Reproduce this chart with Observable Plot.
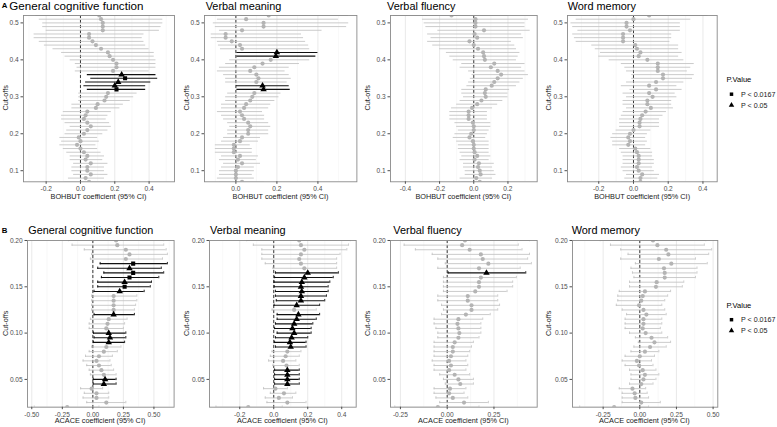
<!DOCTYPE html>
<html><head><meta charset="utf-8">
<script src="https://cdn.jsdelivr.net/npm/d3@7"></script>
<script src="https://cdn.jsdelivr.net/npm/@observablehq/plot@0.6"></script>
<style>
body{margin:0;background:#fff;}
#root{position:relative;width:777px;height:427px;overflow:hidden;font-family:"Liberation Sans",Arial,sans-serif;background:#fff;}
#root svg{position:absolute;}
</style></head><body><div id="root"></div>
<script>
// ---------- data ----------
const cutA = [0.52,0.51,0.50,0.49,0.48,0.47,0.46,0.45,0.44,0.43,0.42,0.41,0.40,0.39,0.38,0.37,0.36,0.35,0.34,0.33,0.32,0.31,0.30,0.29,0.28,0.27,0.26,0.25,0.24,0.23,0.22,0.21,0.20,0.19,0.18,0.17,0.16,0.15,0.14,0.13,0.12,0.11,0.10,0.09,0.08,0.07];
const cutB = [0.200,0.195,0.190,0.185,0.180,0.175,0.170,0.165,0.160,0.155,0.150,0.145,0.140,0.135,0.130,0.125,0.120,0.115,0.110,0.105,0.100,0.095,0.090,0.085,0.080,0.075,0.070,0.065,0.060,0.055,0.050,0.045,0.040,0.035,0.030,0.025,0.020];
const yTicksA = [0.1,0.2,0.3,0.4,0.5];
const yTicksB = [0.05,0.10,0.15,0.20];
const panelTitles = ["General cognitive function","Verbal meaning","Verbal fluency","Word memory"];
const xTitleA = "BOHBUT coefficient (95% CI)";
const xTitleB = "ACACE coefficient (95% CI)";
const yTitle = "Cut-offs";
const legendTitle = "P.Value";
const legendLabels = ["P < 0.0167","P < 0.05"];
// rows: [estimate, lower, upper, significance (0 = n.s., 1 = P<0.05, 2 = P<0.0167)]
const gcfA = [
[0.11,-0.26,0.49,0],[0.12,-0.24,0.48,0],[0.13,-0.22,0.48,0],[0.13,-0.22,0.47,0],[0.13,-0.20,0.46,0],
[0.05,-0.27,0.37,0],[0.05,-0.27,0.36,0],[0.07,-0.24,0.37,0],[0.09,-0.21,0.38,0],[0.12,-0.16,0.40,0],
[0.16,-0.11,0.43,0],[0.17,-0.09,0.43,0],[0.19,-0.06,0.44,0],[0.21,-0.03,0.44,0],[0.21,-0.02,0.44,0],
[0.19,-0.03,0.40,0],[0.24,0.04,0.44,1],[0.26,0.06,0.45,2],[0.22,0.03,0.41,1],[0.20,0.02,0.38,1],
[0.21,0.04,0.38,2],[0.16,-0.01,0.33,0],[0.15,-0.01,0.31,0],[0.14,-0.01,0.29,0],[0.10,-0.05,0.25,0],
[0.09,-0.05,0.23,0],[0.04,-0.10,0.18,0],[0.03,-0.11,0.16,0],[0.02,-0.11,0.15,0],[0.04,-0.09,0.17,0],
[0.06,-0.06,0.18,0],[0.04,-0.08,0.16,0],[0.02,-0.09,0.13,0],[-0.01,-0.12,0.10,0],[0.00,-0.11,0.11,0],
[-0.02,-0.12,0.09,0],[0.00,-0.10,0.10,0],[0.02,-0.08,0.12,0],[0.04,-0.06,0.14,0],[0.03,-0.06,0.13,0],
[0.06,-0.04,0.16,0],[0.04,-0.05,0.14,0],[0.04,-0.05,0.14,0],[0.06,-0.04,0.16,0],[0.03,-0.07,0.14,0],
[0.05,-0.09,0.18,0]];
const vmA = [
[0.16,-0.12,0.55,0],[0.05,-0.09,0.50,0],[0.135,-0.11,0.55,0],[0.135,-0.10,0.54,0],[0.03,-0.08,0.42,0],
[-0.05,-0.12,0.32,0],[-0.05,-0.12,0.33,0],[-0.02,-0.09,0.34,0],[0.02,-0.085,0.355,0],[0.03,-0.075,0.36,0],
[0.20,0.005,0.40,1],[0.195,0.005,0.39,1],[0.17,-0.03,0.36,0],[0.13,-0.05,0.31,0],[0.09,-0.08,0.26,0],
[0.07,-0.09,0.24,0],[0.10,-0.06,0.26,0],[0.11,-0.05,0.27,0],[0.10,-0.05,0.25,0],[0.13,0.003,0.26,1],
[0.135,0.005,0.265,1],[0.09,-0.04,0.22,0],[0.08,-0.05,0.21,0],[0.07,-0.05,0.19,0],[0.05,-0.07,0.17,0],
[0.04,-0.07,0.16,0],[0.02,-0.09,0.13,0],[0.03,-0.07,0.14,0],[0.04,-0.06,0.14,0],[0.06,-0.04,0.16,0],
[0.07,-0.03,0.17,0],[0.06,-0.04,0.16,0],[0.06,-0.04,0.16,0],[0.03,-0.06,0.12,0],[0.02,-0.07,0.11,0],
[-0.01,-0.10,0.07,0],[-0.01,-0.10,0.08,0],[-0.01,-0.10,0.08,0],[0.02,-0.07,0.11,0],[0.01,-0.08,0.10,0],
[0.03,-0.06,0.12,0],[0.01,-0.07,0.09,0],[0.00,-0.08,0.09,0],[0.00,-0.08,0.08,0],[0.00,-0.09,0.09,0],
[0.03,-0.08,0.14,0]];
const vfA = [
[-0.13,-0.47,0.20,0],[0.01,-0.30,0.32,0],[0.01,-0.29,0.30,0],[0.01,-0.28,0.30,0],[0.06,-0.21,0.33,0],
[0.005,-0.27,0.28,0],[0.02,-0.25,0.29,0],[-0.025,-0.27,0.22,0],[0.00,-0.24,0.24,0],[0.025,-0.20,0.25,0],
[0.055,-0.16,0.27,0],[0.06,-0.14,0.26,0],[0.065,-0.12,0.25,0],[0.12,-0.07,0.30,0],[0.10,-0.08,0.28,0],
[0.14,-0.03,0.30,0],[0.16,-0.01,0.32,0],[0.14,-0.02,0.29,0],[0.12,-0.03,0.27,0],[0.105,-0.04,0.25,0],
[0.07,-0.07,0.21,0],[0.065,-0.07,0.20,0],[0.07,-0.06,0.20,0],[0.045,-0.08,0.17,0],[0.02,-0.10,0.14,0],
[-0.01,-0.13,0.11,0],[-0.03,-0.14,0.08,0],[-0.03,-0.14,0.08,0],[-0.03,-0.14,0.08,0],[-0.005,-0.11,0.10,0],
[0.00,-0.10,0.10,0],[0.00,-0.09,0.09,0],[-0.015,-0.11,0.08,0],[-0.025,-0.12,0.07,0],[-0.005,-0.10,0.09,0],
[0.00,-0.09,0.09,0],[0.00,-0.09,0.09,0],[0.005,-0.08,0.09,0],[0.02,-0.07,0.10,0],[0.005,-0.08,0.09,0],
[0.03,-0.06,0.12,0],[0.025,-0.06,0.11,0],[0.035,-0.05,0.12,0],[0.04,-0.05,0.13,0],[0.015,-0.08,0.11,0],
[0.035,-0.07,0.14,0]];
const wmA = [
[0.09,-0.25,0.43,0],[0.00,-0.33,0.33,0],[-0.04,-0.36,0.27,0],[-0.04,-0.35,0.27,0],[-0.02,-0.32,0.27,0],
[-0.06,-0.35,0.22,0],[-0.06,-0.34,0.22,0],[-0.06,-0.33,0.21,0],[0.01,-0.24,0.26,0],[0.02,-0.22,0.26,0],
[0.04,-0.19,0.28,0],[0.03,-0.20,0.26,0],[0.08,-0.14,0.29,0],[0.14,-0.07,0.35,0],[0.14,-0.05,0.33,0],
[0.14,-0.04,0.31,0],[0.17,-0.01,0.35,0],[0.17,-0.01,0.34,0],[0.13,-0.04,0.29,0],[0.09,-0.07,0.25,0],
[0.13,-0.02,0.28,0],[0.09,-0.06,0.24,0],[0.11,-0.04,0.25,0],[0.08,-0.06,0.22,0],[0.08,-0.06,0.22,0],
[0.10,-0.04,0.23,0],[0.07,-0.06,0.19,0],[0.05,-0.07,0.17,0],[0.04,-0.08,0.15,0],[0.035,-0.08,0.15,0],
[0.035,-0.08,0.15,0],[0.00,-0.10,0.10,0],[-0.02,-0.12,0.08,0],[-0.03,-0.13,0.07,0],[-0.02,-0.12,0.08,0],
[-0.03,-0.12,0.07,0],[0.01,-0.08,0.10,0],[0.02,-0.07,0.11,0],[0.03,-0.06,0.11,0],[0.03,-0.06,0.12,0],
[0.03,-0.06,0.12,0],[0.02,-0.07,0.11,0],[0.03,-0.06,0.12,0],[0.05,-0.04,0.15,0],[0.04,-0.05,0.14,0],
[0.04,-0.07,0.16,0]];
const gcfB = [
[0.19,-0.20,0.58,0],[0.20,-0.17,0.58,0],[0.27,-0.07,0.60,0],[0.30,-0.01,0.61,0],[0.27,-0.02,0.57,0],
[0.33,0.06,0.61,2],[0.30,0.04,0.56,1],[0.33,0.09,0.58,2],[0.30,0.07,0.54,2],[0.26,0.04,0.48,1],
[0.26,0.04,0.47,2],[0.22,0.01,0.42,1],[0.17,-0.01,0.36,0],[0.17,-0.01,0.36,0],[0.17,-0.01,0.35,0],
[0.17,-0.01,0.34,0],[0.17,0.01,0.34,1],[0.13,-0.02,0.28,0],[0.12,-0.03,0.26,0],[0.11,-0.03,0.25,0],
[0.13,0.005,0.27,1],[0.14,0.01,0.27,1],[0.13,0.005,0.26,1],[0.11,-0.01,0.23,0],[0.09,-0.03,0.20,0],
[0.05,-0.06,0.16,0],[0.03,-0.08,0.14,0],[0.05,-0.05,0.15,0],[0.07,-0.03,0.17,0],[0.09,-0.02,0.19,0],
[0.10,0.003,0.19,1],[0.09,0.003,0.19,1],[-0.01,-0.10,0.08,0],[0.03,-0.07,0.13,0],[0.03,-0.08,0.13,0],
[0.11,-0.05,0.27,0],[-0.21,-0.48,0.05,0]];
const vmB = [
[0.15,-0.16,0.45,0],[0.16,-0.12,0.44,0],[0.18,-0.07,0.43,0],[0.16,-0.07,0.39,0],[0.15,-0.07,0.37,0],
[0.16,-0.05,0.37,0],[0.18,-0.005,0.37,0],[0.20,0.01,0.38,1],[0.18,0.005,0.35,1],[0.165,0.002,0.33,1],
[0.16,0.003,0.32,1],[0.165,0.01,0.32,1],[0.16,0.01,0.31,1],[0.16,0.015,0.30,1],[0.135,0.002,0.27,1],
[0.12,-0.01,0.25,0],[0.145,0.02,0.27,1],[0.135,0.02,0.25,1],[0.12,0.01,0.23,1],[0.11,0.005,0.22,1],
[0.12,0.02,0.22,1],[0.105,0.01,0.20,1],[0.095,0.005,0.19,1],[0.10,0.01,0.19,1],[0.08,-0.01,0.16,0],
[0.07,-0.02,0.15,0],[0.055,-0.03,0.13,0],[0.075,-0.005,0.15,0],[0.08,0.005,0.15,1],[0.08,0.005,0.15,1],
[0.08,0.005,0.15,1],[0.08,0.005,0.15,1],[0.01,-0.06,0.08,0],[0.06,-0.02,0.13,0],[0.03,-0.05,0.11,0],
[0.08,-0.04,0.19,0],[-0.15,-0.34,0.05,0]];
const vfB = [
[0.095,-0.24,0.44,0],[0.08,-0.23,0.38,0],[0.12,-0.17,0.40,0],[0.18,-0.08,0.44,0],[0.19,-0.05,0.43,0],
[0.22,-0.01,0.45,0],[0.17,-0.05,0.39,0],[0.21,0.005,0.42,1],[0.18,-0.02,0.37,0],[0.17,-0.02,0.35,0],
[0.17,-0.02,0.35,0],[0.15,-0.02,0.32,0],[0.11,-0.05,0.27,0],[0.11,-0.05,0.27,0],[0.13,-0.03,0.28,0],
[0.13,-0.02,0.27,0],[0.10,-0.03,0.23,0],[0.06,-0.07,0.19,0],[0.055,-0.07,0.18,0],[0.06,-0.06,0.18,0],
[0.065,-0.05,0.18,0],[0.06,-0.05,0.17,0],[0.04,-0.07,0.14,0],[0.03,-0.07,0.13,0],[0.03,-0.07,0.12,0],
[0.02,-0.07,0.11,0],[0.01,-0.08,0.10,0],[0.02,-0.07,0.11,0],[0.01,-0.07,0.10,0],[0.04,-0.04,0.12,0],
[0.06,-0.02,0.14,0],[0.07,-0.01,0.14,0],[0.015,-0.07,0.10,0],[0.01,-0.07,0.09,0],[0.03,-0.06,0.11,0],
[0.09,-0.04,0.22,0],[-0.05,-0.28,0.17,0]];
const wmB = [
[0.09,-0.27,0.45,0],[0.12,-0.20,0.44,0],[0.18,-0.13,0.49,0],[0.195,-0.08,0.47,0],[0.13,-0.13,0.38,0],
[0.215,-0.03,0.46,0],[0.165,-0.06,0.39,0],[0.17,-0.05,0.39,0],[0.17,-0.04,0.38,0],[0.115,-0.07,0.30,0],
[0.11,-0.07,0.29,0],[0.035,-0.14,0.21,0],[0.02,-0.15,0.19,0],[0.01,-0.15,0.17,0],[-0.005,-0.16,0.15,0],
[0.025,-0.12,0.17,0],[0.045,-0.09,0.18,0],[0.025,-0.10,0.15,0],[0.025,-0.10,0.15,0],[0.02,-0.10,0.14,0],
[0.04,-0.07,0.15,0],[0.08,-0.03,0.19,0],[0.10,-0.01,0.21,0],[0.07,-0.04,0.18,0],[0.035,-0.06,0.13,0],
[0.00,-0.10,0.10,0],[-0.02,-0.12,0.08,0],[-0.005,-0.10,0.09,0],[0.02,-0.07,0.11,0],[0.035,-0.06,0.13,0],
[0.025,-0.06,0.11,0],[0.01,-0.07,0.09,0],[-0.05,-0.14,0.04,0],[-0.035,-0.12,0.05,0],[-0.03,-0.12,0.06,0],
[0.01,-0.12,0.14,0],[-0.175,-0.41,0.06,0]];

// ---------- layout ----------
const panels = [
 {row:"A", data:gcfA, cuts:cutA, fx:[23,174],    xd:[-0.332,0.548], ticks:[-0.2,0,0.2,0.4], dec:1, title:0, tx:9.3, tsize:11.6, yt:5},
 {row:"A", data:vmA,  cuts:cutA, fx:[204.3,356.7],xd:[-0.153,0.59], ticks:[0,0.2,0.4], dec:1, title:1, tx:205.7, tsize:10.9, yt:186},
 {row:"A", data:vfA,  cuts:cutA, fx:[390,536.7],  xd:[-0.487,0.371], ticks:[-0.4,-0.2,0,0.2], dec:1, title:2, tx:387, tsize:10.9, yt:367},
 {row:"A", data:wmA,  cuts:cutA, fx:[567.3,717],  xd:[-0.380,0.482], ticks:[-0.2,0,0.2,0.4], dec:1, title:3, tx:567.7, tsize:10.9, yt:548},
 {row:"B", data:gcfB, cuts:cutB, fx:[26.7,173.3], xd:[-0.535,0.665], ticks:[-0.5,-0.25,0,0.25,0.5], dec:2, title:0, tx:28.3, tsize:10.8, yt:5},
 {row:"B", data:vmB,  cuts:cutB, fx:[209,355.7],  xd:[-0.378,0.485], ticks:[-0.2,0,0.2,0.4], dec:1, title:1, tx:210, tsize:10.9, yt:186},
 {row:"B", data:vfB,  cuts:cutB, fx:[390,536.7],  xd:[-0.303,0.481], ticks:[-0.25,0,0.25], dec:2, title:2, tx:393.3, tsize:10.9, yt:367},
 {row:"B", data:wmB,  cuts:cutB, fx:[571.7,717],  xd:[-0.459,0.532], ticks:[-0.25,0,0.25,0.5], dec:2, title:3, tx:571.7, tsize:10.9, yt:548}
];
const rowGeo = {
  A:{fy:[14.7,181], yd:[0.07,0.52], yticks:yTicksA, ydec:1, cap:0, titleY:9.6, xTitleY:199.2, xTitle:xTitleA, letterY:7.8, legY:82},
  B:{fy:[240,406.7], yd:[0.02,0.20], yticks:yTicksB, ydec:2, cap:0.0013, titleY:234, xTitleY:423.2, xTitle:xTitleB, letterY:233, legY:307.5}
};

const root = document.getElementById("root");
const FONT = "Liberation Sans, Arial, Helvetica, sans-serif";
const GREY = "#b4b4b4", GREYL = "#c2c2c2", BLACK = "#111";

function minorTicks(t, dom){
  const s = t[1]-t[0], out = [];
  for (let i=0;i<t.length-1;i++) out.push((t[i]+t[i+1])/2);
  if (t[0]-s/2 > dom[0]) out.push(t[0]-s/2);
  if (t[t.length-1]+s/2 < dom[1]) out.push(t[t.length-1]+s/2);
  return out;
}

panels.forEach(p => {
  const g = rowGeo[p.row];
  const rows = p.data.map((r,i)=>({cut:p.cuts[i], est:r[0], lo:r[1], hi:r[2], sig:r[3]}));
  const ns = rows.filter(d=>d.sig===0), sg = rows.filter(d=>d.sig>0);
  const mL=32, mR=2, mT=2, mB=14;
  const fw = p.fx[1]-p.fx[0], fh = g.fy[1]-g.fy[0];
  const marks = [
    Plot.ruleX(minorTicks(p.ticks,p.xd), {stroke:"#f0f0f0", strokeWidth:0.5}),
    Plot.ruleX(p.ticks, {stroke:"#e6e6e6", strokeWidth:0.9}),
    Plot.ruleX([0], {stroke:"#222", strokeWidth:0.9, strokeDasharray:"3,2"}),
    Plot.ruleY(ns, {y:"cut", x1:"lo", x2:"hi", stroke:GREYL, strokeWidth:0.85, clip:true}),
    Plot.ruleY(sg, {y:"cut", x1:"lo", x2:"hi", stroke:BLACK, strokeWidth:1.1, clip:true})
  ];
  if (g.cap > 0) {
    marks.push(
      Plot.ruleX(ns, {x:"lo", y1:d=>d.cut-g.cap, y2:d=>d.cut+g.cap, stroke:GREYL, strokeWidth:0.8, clip:true}),
      Plot.ruleX(ns, {x:"hi", y1:d=>d.cut-g.cap, y2:d=>d.cut+g.cap, stroke:GREYL, strokeWidth:0.8, clip:true}),
      Plot.ruleX(sg, {x:"lo", y1:d=>d.cut-g.cap, y2:d=>d.cut+g.cap, stroke:BLACK, strokeWidth:0.9, clip:true}),
      Plot.ruleX(sg, {x:"hi", y1:d=>d.cut-g.cap, y2:d=>d.cut+g.cap, stroke:BLACK, strokeWidth:0.9, clip:true})
    );
  }
  marks.push(
    Plot.dot(ns, {x:"est", y:"cut", r:2.1, fill:GREY, stroke:"none", clip:true}),
    Plot.dot(rows.filter(d=>d.sig===1), {x:"est", y:"cut", symbol:"triangle", r:2.4, fill:"#000", stroke:"none", clip:true}),
    Plot.dot(rows.filter(d=>d.sig===2), {x:"est", y:"cut", symbol:"square", r:2.3, fill:"#000", stroke:"none", clip:true}),
    Plot.frame({stroke:"#8a8a8a", strokeWidth:0.9}),
    Plot.axisX({ticks:p.ticks, tickFormat:d=>d.toFixed(p.dec), tickSize:2.5, tickPadding:2.3, fontSize:6.6, color:"#4d4d4d", label:null}),
    Plot.axisY({ticks:g.yticks, tickFormat:d=>d.toFixed(g.ydec), tickSize:2.5, tickPadding:2.3, fontSize:6.6, color:"#4d4d4d", label:null})
  );
  const svg = Plot.plot({
    width: fw+mL+mR, height: fh+mT+mB,
    marginLeft:mL, marginRight:mR, marginTop:mT, marginBottom:mB,
    x:{domain:p.xd}, y:{domain:g.yd},
    style:{fontFamily:FONT, background:"transparent", overflow:"visible"},
    marks
  });
  svg.style.left = (p.fx[0]-mL)+"px";
  svg.style.top = (g.fy[0]-mT)+"px";
  root.appendChild(svg);
});

// ---------- text overlay (titles, axis titles, legends) ----------
const ov = d3.create("svg").attr("width",777).attr("height",427)
  .style("left","0px").style("top","0px").style("pointer-events","none")
  .attr("font-family",FONT);
[["A","A"],["B","B"]].forEach(([r,lab])=>{
  ov.append("text").attr("x",1.8).attr("y",rowGeo[r].letterY).attr("font-size",7.8).attr("font-weight","bold").attr("fill","#000").text(lab);
});
panels.forEach(p=>{
  const g = rowGeo[p.row];
  ov.append("text").attr("x",p.tx).attr("y",g.titleY).attr("font-size",p.tsize).attr("fill","#000").text(panelTitles[p.title]);
  ov.append("text").attr("x",(p.fx[0]+p.fx[1])/2).attr("y",g.xTitleY).attr("text-anchor","middle")
    .attr("font-size",7.3).attr("fill","#1a1a1a").text(g.xTitle);
  const cy = (g.fy[0]+g.fy[1])/2;
  ov.append("text").attr("transform",`translate(${p.yt+2.6},${cy}) rotate(-90)`).attr("text-anchor","middle")
    .attr("font-size",7.3).attr("fill","#1a1a1a").text(yTitle);
});
// legends
["A","B"].forEach(r=>{
  const y0 = rowGeo[r].legY, lx = 726.5;
  ov.append("text").attr("x",lx).attr("y",y0).attr("font-size",7.5).attr("fill","#000").text(legendTitle);
  const sq = d3.symbol(d3.symbolSquare, 12)(), tri = d3.symbol(d3.symbolTriangle, 13)();
  [[sq,legendLabels[0]],[tri,legendLabels[1]]].forEach(([path,lab],i)=>{
    const cy = y0 + 12.2 + i*11;
    ov.append("path").attr("d",path).attr("transform",`translate(${lx+5},${cy})`).attr("fill","#000");
    ov.append("text").attr("x",lx+14.5).attr("y",cy+2.4).attr("font-size",7.1).attr("fill","#1a1a1a").text(lab);
  });
});
root.appendChild(ov.node());
</script></body></html>
